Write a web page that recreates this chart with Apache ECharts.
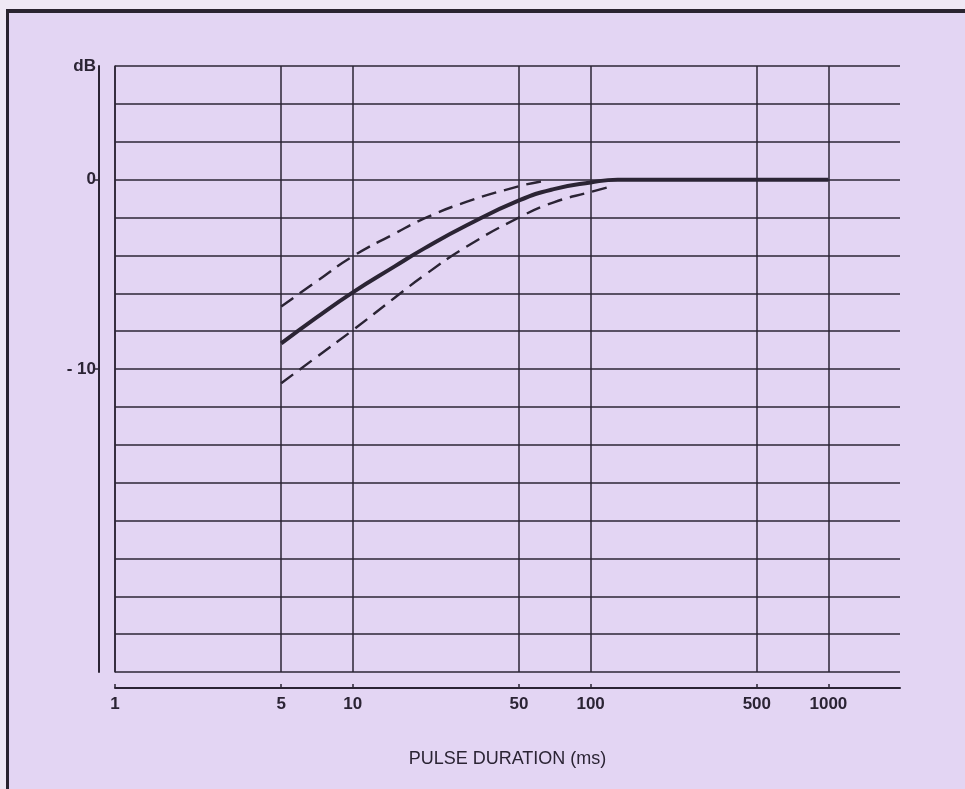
<!DOCTYPE html>
<html>
<head>
<meta charset="utf-8">
<script src="https://cdn.jsdelivr.net/npm/echarts@6/dist/echarts.min.js"></script>
<style>
html, body { margin: 0; padding: 0; background: #efe8f5; }
#frame {
  position: absolute; left: 6px; top: 9px; width: 959px; height: 780px;
  background: #e3d5f3; border-top: 4px solid #2a2430; border-left: 3px solid #2a2430;
  box-sizing: border-box;
}
#chart { position: absolute; left: 0; top: 0; width: 965px; height: 789px; }
</style>
</head>
<body>
<div id="frame"></div>
<div id="chart"></div>
<script>
// pulse duration (ms) and level (dB)
const xTicks = [1, 5, 10, 50, 100, 500, 1000]
const yLabels = [6, 0, -10]

const midX = [5, 7, 10, 15, 20, 30, 50, 70, 100, 130, 200, 500, 1000]
const midY = [-8.65, -7.3, -5.95, -4.58, -3.63, -2.42, -1.1, -0.5, -0.15, 0, 0, 0, 0]

const upX = [5, 7, 10, 15, 20, 30, 50, 65]
const upY = [-6.7, -5.4, -4.05, -2.85, -2.05, -1.18, -0.35, -0.05]

const lowX = [5, 7, 10, 15, 20, 30, 50, 70, 100, 120]
const lowY = [-10.75, -9.39, -7.95, -6.24, -5.05, -3.55, -2.0, -1.2, -0.65, -0.38]

const ink = '#2b2434'
const pairs = (xs, ys) => xs.map((x, i) => [x, ys[i]])

const option = {
  animation: false,
  grid: { left: 115, right: 65, top: 66, bottom: 117 },
  xAxis: {
    type: 'log',
    logBase: 10,
    min: 1,
    max: 2000,
    offset: 16,
    name: 'PULSE DURATION (ms)',
    nameLocation: 'middle',
    nameGap: 62,
    nameTextStyle: { fontFamily: 'Liberation Sans', fontSize: 18, color: ink },
    axisLine: { show: true, onZero: false, lineStyle: { color: ink, width: 2 } },
    axisTick: { show: true, inside: true, length: 4, customValues: xTicks, lineStyle: { color: ink, width: 1.5 } },
    axisLabel: {
      customValues: xTicks,
      margin: 8,
      fontFamily: 'Liberation Sans', fontSize: 17, fontWeight: 'bold', color: ink,
      formatter: v => String(v)
    },
    splitLine: { show: true, lineStyle: { color: ink, width: 1.5 } }
  },
  yAxis: [
    {
      type: 'value',
      min: -26,
      max: 6,
      interval: 2,
      axisLine: { show: true, onZero: false, lineStyle: { color: ink, width: 1.5 } },
      axisTick: { show: false },
      axisLabel: { show: false },
      splitLine: { show: true, lineStyle: { color: ink, width: 1.5 } }
    },
    {
      type: 'value',
      position: 'left',
      min: -26,
      max: 6,
      interval: 2,
      offset: 16,
      axisLine: { show: true, onZero: false, lineStyle: { color: ink, width: 2 } },
      axisTick: { show: true, length: 5, customValues: [0, -10], lineStyle: { color: ink, width: 1.5 } },
      axisLabel: {
        customValues: yLabels,
        margin: 3,
        fontFamily: 'Liberation Sans', fontSize: 17, fontWeight: 'bold', color: ink,
        formatter: v => v === 6 ? 'dB' : (v === 0 ? '0' : '- 10')
      },
      splitLine: { show: false }
    }
  ],
  series: [
    {
      type: 'line', smooth: 0.5, symbol: 'none', yAxisIndex: 0,
      data: pairs(midX, midY),
      lineStyle: { color: ink, width: 4 }
    },
    {
      type: 'line', smooth: 0.5, symbol: 'none', yAxisIndex: 0,
      data: pairs(upX, upY),
      lineStyle: { color: ink, width: 2.4, type: [15, 8] }
    },
    {
      type: 'line', smooth: 0.5, symbol: 'none', yAxisIndex: 0,
      data: pairs(lowX, lowY),
      lineStyle: { color: ink, width: 2.4, type: [15, 8] }
    }
  ]
}

const myChart = echarts.init(document.getElementById('chart'), null, { renderer: 'canvas' })
myChart.setOption(option)
</script>
</body>
</html>
